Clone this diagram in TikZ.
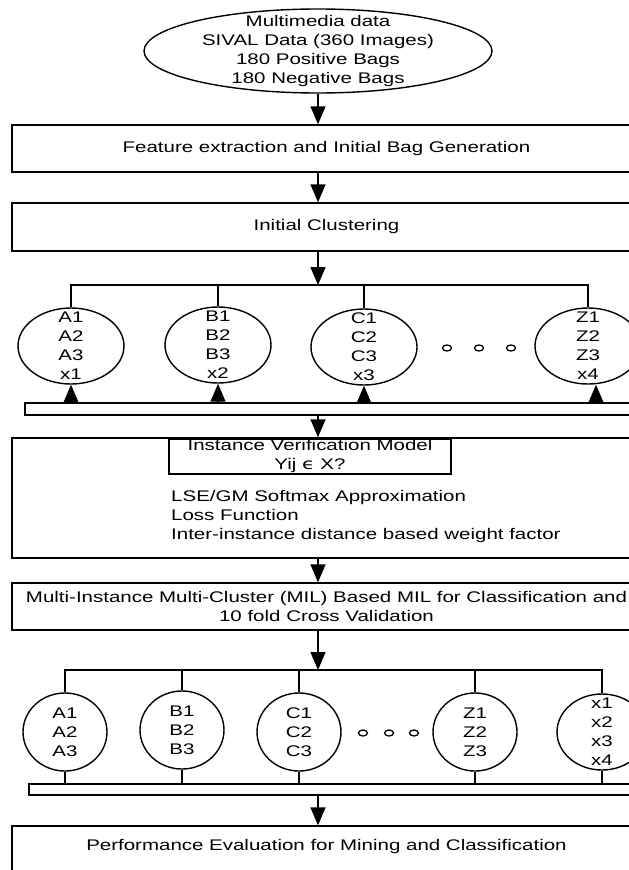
\documentclass[tikz,border=0pt]{standalone}
\usepackage{fontspec}
\setmainfont{Liberation Sans}[FakeStretch=1.33]
\newfontfamily\epsfont{DejaVu Sans}[FakeStretch=1.33]
\usetikzlibrary{shapes.geometric,arrows.meta}
\begin{document}
\begin{tikzpicture}[x=1pt,y=-1pt,
  every node/.style={font=\fontsize{15.4}{19}\selectfont},
  conn/.style={line width=1.4pt},
  arr/.style={line width=1.4pt,-{Triangle[length=18pt,width=15pt]}},
  box/.style={draw,line width=1.4pt,rectangle,inner sep=0pt,align=center,minimum width=629pt},
  barbox/.style={draw,line width=1.4pt,rectangle,inner sep=0pt},
  bag/.style={draw,line width=1.4pt,ellipse,inner sep=0pt},
  bagA/.style={bag,minimum width=106pt,minimum height=76pt},
  bagB/.style={bag,minimum width=84pt,minimum height=78pt},
  txt/.style={align=center,inner sep=0pt}]
\useasboundingbox (0,0) rectangle (629,870);

% source
\node[bag,minimum width=348pt,minimum height=84pt,
  label={[txt]center:Multimedia data\\SIVAL Data (360 Images)\\180 Positive Bags\\180 Negative Bags}] (src) at (318,51) {};

\node[box,minimum height=47pt] (fe) at (326.5,148.5) {Feature extraction and Initial Bag Generation};
\node[box,minimum height=48pt] (ic) at (326.5,227) {Initial Clustering};
\coordinate (s1) at (318,285);

% row 1
\node[bagA,label={[txt]center:A1\\A2\\A3\\x1}] (a1) at (71,346) {};
\node[bagA,label={[txt]center:B1\\B2\\B3\\x2}] (b1) at (218,345) {};
\node[bagA,label={[txt]center:C1\\C2\\C3\\x3}] (c1) at (364,347) {};
\node[bagA,label={[txt]center:Z1\\Z2\\Z3\\x4}] (z1) at (588,346) {};
\draw[line width=1.3pt] (447,348) ellipse [x radius=4.5pt,y radius=3pt];
\draw[line width=1.3pt] (479,348) ellipse [x radius=4.5pt,y radius=3pt];
\draw[line width=1.3pt] (511,348) ellipse [x radius=4.5pt,y radius=3pt];

\node[barbox,minimum width=620pt,minimum height=12pt] (bar1) at (335,409) {};

% verification block
\node[box,minimum height=120pt] (lse) at (326.5,498) {};
\node[draw,line width=1.4pt,minimum width=282pt,minimum height=35pt,inner sep=0pt,align=center] (ivm) at (310,456.5)
  {Instance Verification Model\\Yij {\epsfont ϵ} X?};
\node[anchor=west,align=left,inner sep=0pt] (lst) at (171,517)
  {LSE/GM Softmax Approximation\\Loss Function\\Inter-instance distance based weight factor};

\node[box,minimum height=47pt] (mil) at (326.5,606.5)
  {Multi-Instance Multi-Cluster (MIL) Based MIL for Classification and\\10 fold Cross Validation};
\coordinate (s2) at (318,670);

% row 2
\node[bagB,label={[txt]center:A1\\A2\\A3}] (a2) at (65,732) {};
\node[bagB,label={[txt]center:B1\\B2\\B3}] (b2) at (182,730) {};
\node[bagB,label={[txt]center:C1\\C2\\C3}] (c2) at (299,732) {};
\node[bagB,label={[txt]center:Z1\\Z2\\Z3}] (z2) at (475,732) {};
\node[bag,minimum width=90pt,minimum height=76pt,label={[txt]center:x1\\x2\\x3\\x4}] (xx) at (602,732) {};
\draw[line width=1.3pt] (363,733) ellipse [x radius=4.5pt,y radius=3pt];
\draw[line width=1.3pt] (389,733) ellipse [x radius=4.5pt,y radius=3pt];
\draw[line width=1.3pt] (414,733) ellipse [x radius=4.5pt,y radius=3pt];

\node[barbox,minimum width=616pt,minimum height=11pt] (bar2) at (337,789.5) {};

\node[box,minimum height=90pt,
  label={[txt,anchor=center,yshift=-21pt]north:Performance Evaluation for Mining and Classification}] (pe) at (326.5,871) {};

% connectors
\draw[arr] (src.south) -- (src.south |- fe.north);
\draw[arr] (src.south |- fe.south) -- (src.south |- ic.north);
\draw[arr] (src.south |- ic.south) -- (s1);
\draw[conn] (a1.north) |- (s1) -| (z1.north);
\draw[conn] (b1.north) -- (b1.north |- s1);
\draw[conn] (c1.north) -- (c1.north |- s1);
\draw[arr] (a1.south |- bar1.north) -- (a1.south);
\draw[arr] (b1.south |- bar1.north) -- (b1.south);
\draw[arr] (c1.south |- bar1.north) -- (c1.south);
\coordinate (zt) at ([xshift=8pt]z1.south);
\draw[arr] (zt |- bar1.north) -- (zt);
\draw[arr] (src.south |- bar1.south) -- (src.south |- lse.north);
\draw[arr] (src.south |- lse.south) -- (src.south |- mil.north);
\draw[arr] (src.south |- mil.south) -- (s2);
\draw[conn] (a2.north) |- (s2) -| (xx.north);
\draw[conn] (b2.north) -- (b2.north |- s2);
\draw[conn] (c2.north) -- (c2.north |- s2);
\draw[conn] (z2.north) -- (z2.north |- s2);
\draw[conn] (a2.south) -- (a2.south |- bar2.north);
\draw[conn] (b2.south) -- (b2.south |- bar2.north);
\draw[conn] (c2.south) -- (c2.south |- bar2.north);
\draw[conn] (z2.south) -- (z2.south |- bar2.north);
\draw[conn] (xx.south) -- (xx.south |- bar2.north);
\draw[arr] (src.south |- bar2.south) -- (src.south |- pe.north);
\end{tikzpicture}
\end{document}
